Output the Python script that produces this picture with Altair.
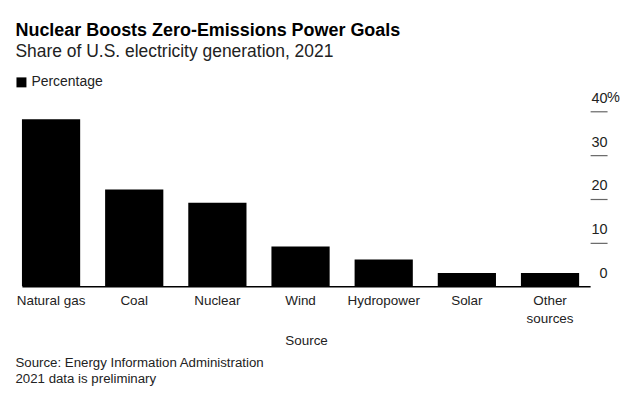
import altair as alt
import pandas as pd

# ---- data ----
sources = ["Natural gas", "Coal", "Nuclear", "Wind", "Hydropower", "Solar", "Other sources"]
shares = [38.2, 22.1, 19.1, 9.1, 6.1, 3.0, 3.0]
series_name = "Percentage"
tick_values = [0, 10, 20, 30, 40]
unit_tick = [40]
unit_text = ["%"]
footer_lines = ["Source: Energy Information Administration", "2021 data is preliminary"]

df = pd.DataFrame({"Source": sources, "Share": shares, "Series": [series_name] * len(sources)})
unit_df = pd.DataFrame({"v": unit_tick, "t": unit_text})
footer_df = pd.DataFrame({"t": ["\n".join(footer_lines)]})

FONT = "Liberation Sans"
W, H = 570, 175.5

y_scale = alt.Scale(domain=[0, 40], nice=False)

bars = alt.Chart(df).mark_bar(color="black").encode(
    x=alt.X(
        "Source:N",
        sort=sources,
        scale=alt.Scale(paddingInner=0.3, paddingOuter=0.066, align=0),
        axis=alt.Axis(
            orient="bottom",
            domain=True,
            domainColor="#000000",
            domainWidth=1.5,
            ticks=False,
            labelAngle=0,
            labelFontSize=13.5,
            labelColor="#222222",
            labelFont=FONT,
            labelPadding=7,
            labelLineHeight=18,
            labelExpr="datum.label == 'Other sources' ? ['Other', 'sources'] : datum.label",
            title="Source",
            titleFont=FONT,
            titleFontSize=13.5,
            titleFontWeight="normal",
            titleColor="#222222",
            titlePadding=9,
        ),
    ),
    y=alt.Y(
        "Share:Q",
        scale=y_scale,
        axis=alt.Axis(
            orient="right",
            values=tick_values,
            domain=False,
            grid=False,
            ticks=True,
            tickSize=17,
            tickColor="#666666",
            tickWidth=1.2,
            tickOpacity={"condition": {"test": "datum.value === 0", "value": 0}, "value": 1},
            labelAlign="right",
            labelBaseline="alphabetic",
            labelPadding=0,
            labelOffset=-9,
            labelFontSize=14.5,
            labelFont=FONT,
            labelColor="#222222",
            labelFlush=False,
            labelOverlap=False,
            title=None,
        ),
    ),
    color=alt.Color(
        "Series:N",
        scale=alt.Scale(range=["#000000"]),
        legend=alt.Legend(
            orient="none",
            legendX=-7.5,
            legendY=-36,
            title=None,
            symbolType="square",
            symbolSize=100,
            symbolStrokeWidth=0,
            labelFontSize=14,
            labelFont=FONT,
            labelColor="#222222",
            labelOffset=3,
        ),
    ),
)

unit = alt.Chart(unit_df).mark_text(
    align="left", baseline="alphabetic", dy=-9, fontSize=14.5, font=FONT, color="#222222"
).encode(
    x=alt.value(W + 17),
    y=alt.Y("v:Q", scale=y_scale),
    text="t:N",
)

footer = alt.Chart(footer_df).mark_text(
    align="left", baseline="top", lineBreak="\n", lineHeight=16, fontSize=13.3, font=FONT, color="#222222"
).encode(
    x=alt.value(-6.5),
    y=alt.value(H + 70),
    text="t:N",
)

chart = alt.layer(bars, unit, footer).properties(
    width=W,
    height=H,
    padding={"left": 6, "top": 13, "right": 5, "bottom": 5},
    title=alt.TitleParams(
        text="Nuclear Boosts Zero-Emissions Power Goals",
        subtitle="Share of U.S. electricity generation, 2021",
        anchor="start",
        frame="group",
        dx=-6.5,
        font=FONT,
        fontSize=18,
        fontWeight="bold",
        color="#000000",
        subtitleFont=FONT,
        subtitleFontSize=17.5,
        subtitleColor="#222222",
        subtitlePadding=3,
        offset=15,
    ),
).configure_view(stroke=None)

chart.save("out.html", embed_options={"renderer": "svg", "actions": False})
